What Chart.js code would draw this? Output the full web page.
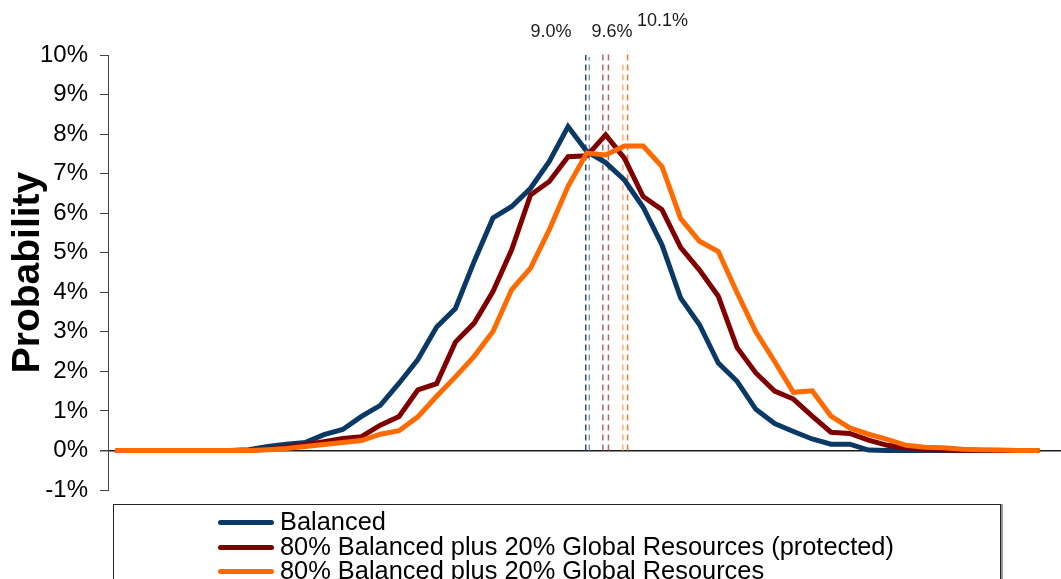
<!DOCTYPE html>
<html>
<head>
<meta charset="utf-8">
<script src="https://cdn.jsdelivr.net/npm/chart.js@4.4.1/dist/chart.umd.min.js"></script>
<style>
  html, body { margin: 0; padding: 0; background: #fff; overflow: hidden; }
  #wrap { position: relative; width: 1061px; height: 579px; }
  #chart { position: absolute; left: 0; top: 0; }
  #legend {
    position: absolute; left: 113px; top: 504px; width: 888px; height: 110px;
    border: 1px solid #222; box-shadow: 2px 0 0 #999; box-sizing: border-box;
    font-family: "Liberation Sans", Arial, sans-serif; font-size: 25.4px; color: #000;
    background: #fff;
  }
  .item { position: absolute; left: 104px; height: 24px; line-height: 24px; white-space: nowrap; }
  .swatch { display: inline-block; width: 56px; height: 5px; border-radius: 3px; vertical-align: middle; margin-right: 6px; position: relative; top: -1px; }
</style>
</head>
<body>
<div id="wrap">
  <canvas id="chart" width="1061" height="579"></canvas>
  <div id="legend"></div>
</div>
<script>
// Probability of each outcome bucket (percent), buckets 0..49
const balanced = [
  0, 0, 0, 0, 0, 0, 0, 0.02, 0.1, 0.16,
  0.2, 0.4, 0.53, 0.86, 1.14, 1.7, 2.3, 3.12, 3.59, 4.78,
  5.88, 6.17, 6.63, 7.31, 8.19, 7.56, 7.28, 6.84, 6.15, 5.2,
  3.85, 3.18, 2.21, 1.75, 1.04, 0.68, 0.48, 0.29, 0.16, 0.16,
  0.01, 0, 0, 0, 0, 0, 0, 0, 0, 0
];
const protectedMix = [
  0, 0, 0, 0, 0, 0, 0, 0, 0.03, 0.08,
  0.15, 0.22, 0.3, 0.35, 0.64, 0.86, 1.53, 1.69, 2.74, 3.22,
  4.02, 5.08, 6.46, 6.8, 7.43, 7.45, 7.98, 7.39, 6.42, 6.09,
  5.13, 4.56, 3.9, 2.6, 1.96, 1.5, 1.3, 0.87, 0.46, 0.43,
  0.26, 0.13, 0.07, 0.03, 0.01, 0, 0, 0, 0, 0
];
const globalMix = [
  0, 0, 0, 0, 0, 0, 0, 0, 0.02, 0.05,
  0.1, 0.15, 0.2, 0.25, 0.41, 0.5, 0.85, 1.37, 1.86, 2.38,
  3.01, 4.07, 4.61, 5.58, 6.68, 7.52, 7.47, 7.7, 7.7, 7.18,
  5.86, 5.29, 5.03, 3.99, 3.0, 2.25, 1.47, 1.51, 0.87, 0.57,
  0.41, 0.28, 0.13, 0.08, 0.07, 0.03, 0.02, 0.01, 0, 0
];

const seriesNames = [
  'Balanced',
  '80% Balanced plus 20% Global Resources (protected)',
  '80% Balanced plus 20% Global Resources'
];
const seriesColors = ['#0b3966', '#800000', '#ff6a00'];

// Y axis ticks and their labels
const yTickValues = [-1, 0, 1, 2, 3, 4, 5, 6, 7, 8, 9, 10];
const yTickLabels = ['-1%', '0%', '1%', '2%', '3%', '4%', '5%', '6%', '7%', '8%', '9%', '10%'];

// Expected-return markers: dashed line pairs (bucket position), tops, labels
const markerLabels = ['9.0%', '9.6%', '10.1%'];
const markerX = [[24.94, 25.13], [25.85, 26.15], [26.92, 27.17]];
const markerTop = [[10.0, 9.95], [10.08, 10.05], [9.85, 10.12]];
const markerColors = [['#2c4a6e', '#7f9bbb'], ['#b46666', '#b46666'], ['#ffb07a', '#ff7a22']];
const markerLabelX = [23.09, 26.34, 29.03];
const markerLabelY = [10.59, 10.59, 10.85];

const seriesData = [balanced, protectedMix, globalMix];

const datasets = [];
seriesData.forEach((vals, s) => {
  datasets.push({
    label: seriesNames[s],
    data: vals.map((v, i) => ({ x: i, y: v })),
    borderColor: seriesColors[s],
    backgroundColor: seriesColors[s],
    borderWidth: 5,
    pointRadius: 0,
    tension: 0,
    borderCapStyle: 'round',
    borderJoinStyle: 'miter',
    order: 3 - s,
    clip: false
  });
});
markerX.forEach((pair, m) => {
  pair.forEach((xv, k) => {
    datasets.push({
      label: 'marker',
      data: [{ x: xv, y: 0 }, { x: xv, y: markerTop[m][k] }],
      borderColor: markerColors[m][k],
      borderWidth: 1.5,
      borderDash: [6, 4],
      pointRadius: 0,
      order: 10,
      clip: false
    });
  });
});

const markerLabelPlugin = {
  id: 'markerLabels',
  afterDatasetsDraw(chart) {
    const { ctx, scales: { x, y } } = chart;
    ctx.save();
    ctx.font = '18px "Liberation Sans", Arial, sans-serif';
    ctx.fillStyle = '#1a1a1a';
    ctx.textAlign = 'center';
    ctx.textBaseline = 'middle';
    markerLabels.forEach((t, i) => {
      ctx.fillText(t, x.getPixelForValue(markerLabelX[i]), y.getPixelForValue(markerLabelY[i]));
    });
    ctx.restore();
  }
};

new Chart(document.getElementById('chart'), {
  type: 'line',
  data: { datasets },
  plugins: [markerLabelPlugin],
  options: {
    responsive: false,
    animation: false,
    devicePixelRatio: 1,
    layout: { padding: { top: 55, bottom: 89, left: 0, right: 0 } },
    plugins: { legend: { display: false }, tooltip: { enabled: false } },
    scales: {
      x: { type: 'linear', min: -0.5, max: 50.25, display: false },
      y: {
        type: 'linear', min: -1, max: 10,
        afterFit(scale) { scale.width = 108; },
        afterBuildTicks(scale) { scale.ticks = yTickValues.map(v => ({ value: v })); },
        ticks: {
          callback: (v) => yTickLabels[yTickValues.indexOf(v)],
          color: '#000',
          padding: 12,
          font: { family: '"Liberation Sans", Arial, sans-serif', size: 24 }
        },
        grid: {
          color: (c) => (c.tick && c.tick.value === 0 ? '#1a1a1a' : 'rgba(0,0,0,0)'),
          lineWidth: (c) => (c.tick && c.tick.value === 0 ? 1.5 : 1),
          tickColor: '#444',
          tickLength: 8,
          drawTicks: true
        },
        border: { display: true, color: '#444', width: 1 },
        title: {
          display: true,
          text: 'Probability',
          color: '#000',
          font: { family: '"Liberation Sans", Arial, sans-serif', size: 39, weight: 'bold' },
          padding: { top: 5, bottom: 0 }
        }
      }
    }
  }
});

// Legend list built from the series names and colours
const legend = document.getElementById('legend');
const rowTops = [4, 29, 53];
seriesNames.forEach((name, s) => {
  const row = document.createElement('div');
  row.className = 'item';
  row.style.top = rowTops[s] + 'px';
  const sw = document.createElement('span');
  sw.className = 'swatch';
  sw.style.background = seriesColors[s];
  row.appendChild(sw);
  row.appendChild(document.createTextNode(name));
  legend.appendChild(row);
});
</script>
</body>
</html>
